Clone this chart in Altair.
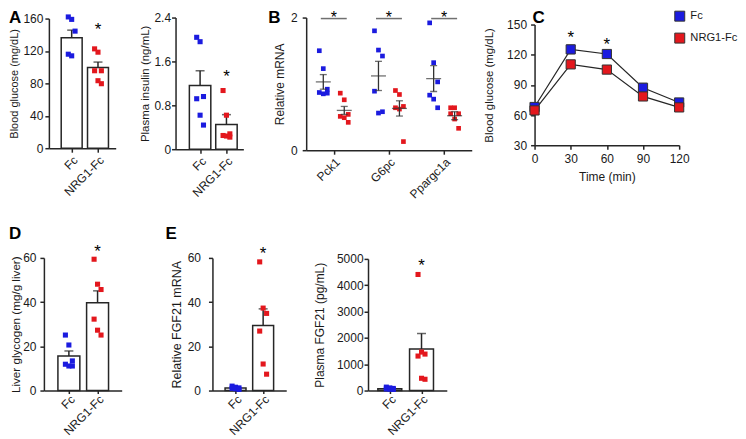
import json
import altair as alt
import pandas as pd

FONT = "Liberation Sans"
BLUE = "#1b1bdf"
RED = "#e3171d"
INK = "#262626"
H = 133

groups = ["Fc", "NRG1-Fc"]

# ---- A (left): fasting blood glucose
glu_fc = [162, 159, 144.5, 116, 114]
glu_nrg = [122.6, 118.5, 95.6, 95.6, 83.3, 79.6]
glu_mean = [136.2, 99.7]
glu_sem = [9.5, 6.6]
glu_star = 152

# ---- A (right): plasma insulin
ins_fc = [2.04, 1.96, 0.96, 0.92, 0.62, 0.44]
ins_nrg = [1.07, 0.62, 0.28, 0.25, 0.24, 0.22]
ins_mean = [1.16, 0.45]
ins_sem = [0.27, 0.18]
ins_star = 1.40

# ---- B: relative mRNA
genes = ["Pck1", "G6pc", "Ppargc1a"]
mrna_fc = [[1.50, 1.23, 0.92, 0.87, 0.85, 0.86],
           [1.80, 1.51, 1.42, 0.89, 0.56, 0.58],
           [1.92, 1.32, 1.03, 0.83, 0.77, 0.64]]
mrna_nrg = [[0.86, 0.76, 0.54, 0.51, 0.49, 0.42],
            [0.90, 0.84, 0.66, 0.64, 0.62, 0.13],
            [0.64, 0.64, 0.55, 0.55, 0.47, 0.33]]
mrna_mean_fc = [1.03, 1.12, 1.08]
mrna_sem_fc = [0.11, 0.22, 0.195]
mrna_mean_nrg = [0.60, 0.63, 0.52]
mrna_sem_nrg = [0.06, 0.115, 0.06]
mrna_sig = 1.985
mrna_star = 2.051

# ---- C: glucose tolerance test
time_min = [0, 30, 60, 90, 120]
gtt_fc = [68.0, 125.3, 120.7, 87.1, 72.5]
gtt_nrg = [64.6, 110.4, 105.2, 78.5, 67.6]
gtt_sem_fc = [2.0, 4.3, 2.0, 4.5, 2.0]
gtt_sem_nrg = [2.0, 2.5, 3.0, 2.5, 2.0]
gtt_star_t = [30, 60]
gtt_star_y = [142, 135]

# ---- D: liver glycogen
gly_fc = [25.1, 20.6, 13.4, 11.9, 11.1, 11.1]
gly_nrg = [59.4, 48.1, 45.7, 32.3, 27.3, 25.1]
gly_mean = [15.6, 39.7]
gly_sem = [2.3, 5.4]
gly_star = 65

# ---- E (left): relative FGF21 mRNA
fgf_fc = [2.0, 1.5, 1.2, 1.0, 0.8, 0.5]
fgf_nrg = [58.2, 37.3, 34.9, 26.9, 12.0, 7.4]
fgf_mean = [1.2, 29.45]
fgf_sem = [0.25, 7.5]
fgf_star = 64

# ---- E (right): plasma FGF21
pf_fc = [130, 100, 80, 60, 50, 40]
pf_nrg = [4408, 1461, 1385, 1310, 466, 428]
pf_mean = [65, 1576]
pf_sem = [15, 590]
pf_star = 4920

STAR_FS = 17


def letter_layer(ch, lx, ly):
    return alt.Chart(pd.DataFrame({"t": [ch]})).mark_text(
        font=FONT, fontSize=17, fontWeight="bold", align="left", baseline="top", color="black"
    ).encode(text="t:N", x=alt.value(lx), y=alt.value(ly))


def bar_panel(fc, nrg, mean, sem, star_y, ytitle, yticks, ydom, yrange, xdom, xrange,
              width, bar_w, step, ylab_pad, ytitle_pad, ylabexpr=None, yoff=0, xoff=0,
              letter=None, title_fs=12, xlab_pad=2, xtick=4):
    j = 4.0 / step
    fx = [((i % 3) - 1) * j for i in range(len(fc))]
    nx = [1 + ((i % 3) - 1) * j for i in range(len(nrg))]
    pts = pd.DataFrame({"xp": fx + nx, "v": fc + nrg,
                        "grp": [groups[0]] * len(fc) + [groups[1]] * len(nrg)})
    summ = pd.DataFrame({"xp": [0, 1], "v": mean,
                         "hi": [m + s for m, s in zip(mean, sem)]})
    star = pd.DataFrame({"xp": [1], "v": [star_y], "t": ["*"]})
    xax = alt.Axis(values=[0, 1], labelExpr=json.dumps(groups) + "[datum.value]",
                   labelAngle=-45, title=None, offset=xoff, labelFlush=False,
                   labelPadding=xlab_pad, tickSize=xtick)
    ykw = dict(values=yticks, title=ytitle, offset=yoff, labelPadding=ylab_pad,
               titlePadding=ytitle_pad, titleFontSize=title_fs)
    if ylabexpr:
        ykw["labelExpr"] = ylabexpr
    else:
        ykw["format"] = "d"
    yax = alt.Axis(**ykw)
    xs = alt.Scale(domain=xdom, range=xrange, nice=False, zero=False)
    ys = alt.Scale(domain=ydom, range=yrange, nice=False, zero=False)
    X = alt.X("xp:Q", scale=xs, axis=xax)

    def Y(f):
        return alt.Y(f + ":Q", scale=ys, axis=yax)

    bars = alt.Chart(summ).mark_bar(width=bar_w, fill="white", stroke=INK, strokeWidth=1.5).encode(x=X, y=Y("v"))
    err = alt.Chart(summ).mark_rule(color=INK, strokeWidth=1.5).encode(x=X, y=Y("v"), y2="hi:Q")
    cap = alt.Chart(summ).mark_tick(orient="horizontal", size=9, thickness=1.5, color=INK).encode(x=X, y=Y("hi"))
    dots = alt.Chart(pts).mark_square(size=26, opacity=1).encode(
        x=X, y=Y("v"),
        color=alt.Color("grp:N", scale=alt.Scale(domain=groups, range=[BLUE, RED]), legend=None))
    st = alt.Chart(star).mark_text(fontSize=STAR_FS, dy=10, baseline="alphabetic", font=FONT, color="black").encode(
        x=X, y=Y("v"), text="t:N")
    layers = [bars, err, cap, dots, st]
    if letter:
        layers.append(letter_layer(*letter))
    return alt.layer(*layers).properties(width=width, height=H)


# ---------------- A
a1 = bar_panel(glu_fc, glu_nrg, glu_mean, glu_sem, glu_star, "Blood glucose (mg/dL)",
               [0, 40, 80, 120, 160], [0, 160], [131, 1], [-0.677, 1.484], [5, 72],
               72, 21, 31, 2, 3, yoff=-5, xoff=-2, letter=("A", -35, -8), title_fs=11)
a2 = bar_panel(ins_fc, ins_nrg, ins_mean, ins_sem, ins_star, "Plasma insulin (ng/mL)",
               [0, 0.8, 1.6, 2.4], [0, 2.4], [132, 0], [-0.742, 1.452], [0, 68],
               71, 21.5, 31, 1, 3,
               ylabexpr="datum.value == 0 ? '0' : format(datum.value, '.1f')", xoff=-1,
               title_fs=11.5)

# ---------------- B
off = 0.19
jb = 4.0 / 55.33
rows = []
for gi in range(len(genes)):
    for i, v in enumerate(mrna_fc[gi]):
        rows.append(dict(xp=gi - off + ((i % 3) - 1) * jb, v=v, grp=groups[0]))
    for i, v in enumerate(mrna_nrg[gi]):
        rows.append(dict(xp=gi + off + ((i % 3) - 1) * jb, v=v, grp=groups[1]))
b_pts = pd.DataFrame(rows)
b_sum = pd.DataFrame({
    "xp": [g - off for g in range(3)] + [g + off for g in range(3)],
    "v": mrna_mean_fc + mrna_mean_nrg,
    "s": mrna_sem_fc + mrna_sem_nrg,
})
b_sum["lo"] = b_sum["v"] - b_sum["s"]
b_sum["hi"] = b_sum["v"] + b_sum["s"]
b_sig = pd.DataFrame({"xp": [0, 1, 2], "v": [mrna_sig] * 3, "t": ["*"] * 3, "sv": [mrna_star] * 3})

bxs = alt.Scale(domain=[-0.5, 2.5], range=[0, 166], nice=False, zero=False)
bys = alt.Scale(domain=[0, 2], range=[133, 0], nice=False, zero=False)
bxa = alt.Axis(values=[0, 1, 2], labelExpr=json.dumps(genes) + "[datum.value]", labelAngle=-45,
               title=None, labelFlush=False)
bya = alt.Axis(values=[0, 1, 2], format="d", title="Relative mRNA", labelPadding=5, titlePadding=4)
BX = alt.X("xp:Q", scale=bxs, axis=bxa)


def BY(f):
    return alt.Y(f + ":Q", scale=bys, axis=bya)


b_dots = alt.Chart(b_pts).mark_square(size=22, opacity=1).encode(
    x=BX, y=BY("v"), color=alt.Color("grp:N", scale=alt.Scale(domain=groups, range=[BLUE, RED]), legend=None))
b_mean = alt.Chart(b_sum).mark_tick(orient="horizontal", size=15, thickness=1.3, color="#333").encode(x=BX, y=BY("v"))
b_rule = alt.Chart(b_sum).mark_rule(color="#333", strokeWidth=1.3).encode(x=BX, y=BY("lo"), y2="hi:Q")
b_caplo = alt.Chart(b_sum).mark_tick(orient="horizontal", size=7, thickness=1.3, color="#333").encode(x=BX, y=BY("lo"))
b_caphi = alt.Chart(b_sum).mark_tick(orient="horizontal", size=7, thickness=1.3, color="#333").encode(x=BX, y=BY("hi"))
b_line = alt.Chart(b_sig).mark_tick(orient="horizontal", size=26, thickness=1.5, color="#333").encode(x=BX, y=BY("v"))
b_star = alt.Chart(b_sig).mark_text(fontSize=16, dy=9, baseline="alphabetic", font=FONT, color="black").encode(
    x=BX, y=BY("sv"), text="t:N")
b = alt.layer(b_dots, b_rule, b_caplo, b_caphi, b_mean, b_line, b_star,
              letter_layer("B", -38, -8)).properties(width=169, height=H)

# ---------------- C
gtt = pd.DataFrame({
    "t": time_min * 2,
    "v": gtt_fc + gtt_nrg,
    "s": gtt_sem_fc + gtt_sem_nrg,
    "grp": [groups[0]] * 5 + [groups[1]] * 5,
})
gtt["lo"] = gtt["v"] - gtt["s"]
gtt["hi"] = gtt["v"] + gtt["s"]
gstar = pd.DataFrame({"t": gtt_star_t, "v": gtt_star_y, "txt": ["*", "*"]})
cxs = alt.Scale(domain=[0, 120], range=[0, 145], nice=False, zero=False)
cys = alt.Scale(domain=[30, 150], range=[128, 7], nice=False, zero=False)
cxa = alt.Axis(values=time_min, title="Time (min)", labelAngle=0, offset=-5, labelFlush=False,
               labelPadding=4, titlePadding=7)
cya = alt.Axis(values=[30, 60, 90, 120, 150], title="Blood glucose (mg/dL)", labelPadding=4,
               titlePadding=12, format="d", titleFontSize=11.5)
CX = alt.X("t:Q", scale=cxs, axis=cxa)


def CY(f):
    return alt.Y(f + ":Q", scale=cys, axis=cya)


c_line = alt.Chart(gtt).mark_line(color=INK, strokeWidth=1.2).encode(x=CX, y=CY("v"), detail="grp:N")
c_rule = alt.Chart(gtt).mark_rule(color="#555", strokeWidth=1.2).encode(x=CX, y=CY("lo"), y2="hi:Q")
c_caphi = alt.Chart(gtt).mark_tick(orient="horizontal", size=8, thickness=1.2, color="#555").encode(x=CX, y=CY("hi"))
c_caplo = alt.Chart(gtt).mark_tick(orient="horizontal", size=8, thickness=1.2, color="#555").encode(x=CX, y=CY("lo"))
c_pts = alt.Chart(gtt).mark_square(size=85, stroke="#333", strokeWidth=1, opacity=1).encode(
    x=CX, y=CY("v"),
    color=alt.Color("grp:N", scale=alt.Scale(domain=groups, range=[BLUE, RED]),
                    legend=alt.Legend(orient="none", legendX=140, legendY=-7, title=None,
                                      symbolType="square", symbolSize=100, symbolStrokeColor="#333",
                                      symbolStrokeWidth=1, labelFontSize=11.2, labelFont=FONT,
                                      labelOffset=5, rowPadding=7, padding=0, labelColor="#1a1a1a")))
c_star = alt.Chart(gstar).mark_text(fontSize=STAR_FS, dy=10, baseline="alphabetic", font=FONT, color="black").encode(
    x=CX, y=CY("v"), text="txt:N")
c = alt.layer(c_line, c_rule, c_caphi, c_caplo, c_pts, c_star,
              letter_layer("C", -2, -8)).properties(width=145, height=H)

# ---------------- D
d = bar_panel(gly_fc, gly_nrg, gly_mean, gly_sem, gly_star, "Liver glycogen (mg/g liver)",
              [0, 20, 40, 60], [0, 60], [133, 0], [-0.697, 1.667], [0, 78],
              87, 22, 33, 4, 1, letter=("D", -35, -32), title_fs=11.7, xlab_pad=0, xtick=3)

# ---------------- E
e1 = bar_panel(fgf_fc, fgf_nrg, fgf_mean, fgf_sem, fgf_star, "Relative FGF21 mRNA",
               [0, 20, 40, 60], [0, 60], [133, 0], [-0.656, 1.656], [0, 74],
               74, 21, 32, 8, 4, letter=("E", -47, -32), title_fs=12.5, xlab_pad=0, xtick=3)
e2 = bar_panel(pf_fc, pf_nrg, pf_mean, pf_sem, pf_star, "Plasma FGF21 (pg/mL)",
               [0, 1000, 2000, 3000, 4000, 5000], [0, 5000], [133, 1], [-0.53, 1.64], [0, 79],
               79, 24, 36.4, 1, 10, xlab_pad=0, xtick=3)

row1 = alt.hconcat(a1, a2, b, c, spacing=60, bounds="flush").resolve_scale(
    color="independent").resolve_legend(color="independent")
row2 = alt.hconcat(d, e1, e2, spacing=82, bounds="flush").resolve_scale(
    color="independent").resolve_legend(color="independent")

chart = alt.vconcat(row1, row2, spacing=24).resolve_scale(
    color="independent").resolve_legend(color="independent").properties(
    padding={"left": 0, "top": 0, "right": 0, "bottom": 0},
).configure_view(stroke=None).configure_axis(
    grid=False, domainColor=INK, domainWidth=1.5, tickColor=INK, tickWidth=1.5, tickSize=4,
    labelFont=FONT, labelFontSize=12, labelColor="#1a1a1a",
    titleFont=FONT, titleFontSize=12, titleFontWeight="normal", titleColor="#1a1a1a",
).configure_text(font=FONT)

chart.save("out.html", embed_options={"renderer": "svg", "actions": False})
